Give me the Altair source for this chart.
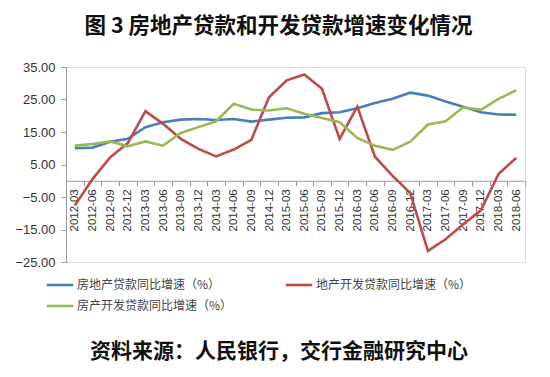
import altair as alt
import pandas as pd

quarters = ["2012-03","2012-06","2012-09","2012-12","2013-03","2013-06","2013-09","2013-12",
            "2014-03","2014-06","2014-09","2014-12","2015-03","2015-06","2015-09","2015-12",
            "2016-03","2016-06","2016-09","2016-12","2017-03","2017-06","2017-09","2017-12",
            "2018-03","2018-06"]

s_blue = "房地产贷款同比增速（%）"
s_red = "地产开发贷款同比增速（%）"
s_green = "房产开发贷款同比增速（%）"

blue = [10.0, 10.2, 12.0, 12.9, 16.5, 18.0, 18.8, 19.0, 18.7, 19.0, 18.2, 18.8,
        19.4, 19.5, 20.8, 21.1, 22.3, 23.9, 25.2, 27.1, 26.2, 24.4, 22.8, 21.1, 20.4, 20.3]
red = [-7.6, 0.5, 7.2, 11.6, 21.4, 17.5, 12.9, 9.8, 7.5, 9.6, 12.6, 25.7,
       30.9, 32.7, 28.3, 12.9, 22.8, 7.4, 1.5, -3.8, -21.6, -18.0, -13.4, -9.1, 2.1, 7.0]
green = [10.8, 11.3, 12.1, 10.6, 12.1, 10.8, 14.7, 16.5, 18.3, 23.7, 21.9, 21.6,
         22.3, 20.6, 19.3, 18.0, 13.2, 10.8, 9.5, 12.0, 17.3, 18.3, 22.6, 21.8, 25.2, 27.8]

# legend order (column-major in a 2-column grid): blue, green | red
series_names = [s_blue, s_green, s_red]
series_colors = ["#4a7ebb", "#98b954", "#be4b48"]
y_ticks = [-25, -15, -5, 5, 15, 25, 35]

title_text = "图 3  房地产贷款和开发贷款增速变化情况"
footer_text = "资料来源：人民银行，交行金融研究中心"

rows = []
for name, vals in zip([s_blue, s_red, s_green], [blue, red, green]):
    for q, v in zip(quarters, vals):
        rows.append({"q": q, "v": v, "s": name})
df = pd.DataFrame(rows)

FONT = "Noto Sans CJK SC"

lines = alt.Chart(df).mark_line(strokeWidth=2.6).encode(
    x=alt.X("q:O", sort=quarters, bandPosition=0.5,
            scale=alt.Scale(type="band", paddingInner=0, paddingOuter=0),
            axis=alt.Axis(title=None, labelAngle=-90, offset=-81.25, tickBand="extent",
                          domainColor="#9a9a9a", tickColor="#9a9a9a", tickSize=5,
                          labelFont="Liberation Sans", labelFontSize=11.5, labelColor="#333333",
                          labelPadding=3, labelBaseline="middle", labelAlign="right")),
    y=alt.Y("v:Q", scale=alt.Scale(domain=[-25, 35], nice=False, zero=False),
            axis=alt.Axis(title=None, values=y_ticks, format=".2f", grid=False,
                          domainColor="#9a9a9a", tickColor="#9a9a9a", tickSize=5,
                          labelFont="Liberation Sans", labelFontSize=13, labelColor="#333333",
                          labelPadding=6)),
    color=alt.Color("s:N", sort=series_names,
                    scale=alt.Scale(domain=series_names, range=series_colors),
                    legend=alt.Legend(title=None, orient="none", legendX=-21, legendY=203,
                                      columns=2, columnPadding=47, rowPadding=0,
                                      symbolType="stroke", symbolSize=700, symbolStrokeWidth=2.6,
                                      labelFont=FONT, labelFontSize=12, labelColor="#444444",
                                      labelOffset=2, labelLimit=300)),
)

footer = alt.Chart(pd.DataFrame({"t": [footer_text]})).mark_text(
    font=FONT, fontSize=21, fontWeight="bold", color="#111111", align="center", baseline="middle"
).encode(text="t:N", x=alt.value(213), y=alt.value(285))

chart = alt.layer(lines, footer).properties(
    width=459, height=195,
    padding={"left": 66, "top": 67, "right": 25, "bottom": 115},
    autosize=alt.AutoSizeParams(type="none"),
    title=alt.TitleParams(title_text, font=FONT, fontSize=21.5, fontWeight="bold",
                          color="#111111", anchor="middle", dx=-17, offset=24),
).configure_view(stroke=None).configure(background="white")

chart.save("out.html", embed_options={"renderer": "svg", "actions": False})
